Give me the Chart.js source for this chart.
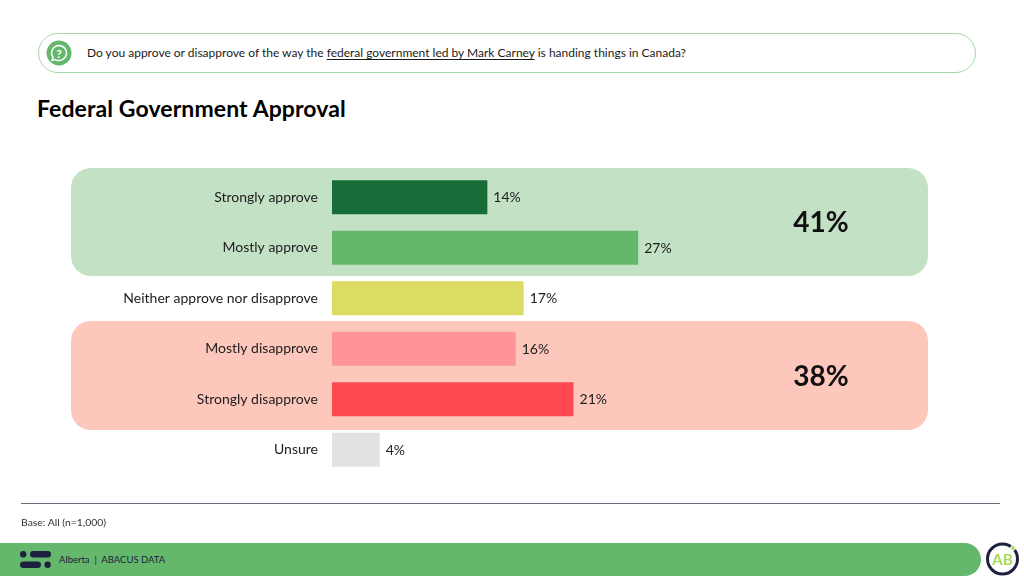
<!DOCTYPE html>
<html>
<head>
<meta charset="utf-8">
<script src="https://cdn.jsdelivr.net/npm/chart.js@4"></script>
<style>
  html, body { margin: 0; padding: 0; background: #fff; }
  body { width: 1024px; height: 576px; position: relative; overflow: hidden; font-family: Lato, sans-serif; color: #1c1c1c; }
  .abs { position: absolute; white-space: nowrap; }
  #chart-wrap { position: absolute; left: 0; top: 0; width: 1024px; height: 576px; }
  .question { left: 38px; top: 33px; width: 936px; height: 38px; border: 1px solid #a5d8a7; border-radius: 20px; }
  .question-text { left: 87px; top: 45px; font-size: 12px; line-height: 16px; }
  .question-text u { text-underline-offset: 2px; }
  .title { left: 37px; top: 95px; font-size: 23px; line-height: 27px; font-weight: 700; letter-spacing: 0.1px; color: #000; }
  .panel { left: 71px; width: 857px; border-radius: 20px; }
  .total { left: 761px; width: 120px; text-align: center; font-size: 28px; line-height: 34px; font-weight: 700; color: #111; }
  .rule { left: 21px; top: 503px; width: 979px; height: 1px; background: #6f6c80; }
  .base { left: 21px; top: 515px; font-size: 10.4px; line-height: 14px; color: #333; }
  .footer { left: 0; top: 543px; width: 981px; height: 33px; background: #65b76b; border-radius: 0 17px 17px 0; }
  .footer-text { left: 59px; top: 553px; font-size: 9.5px; line-height: 14px; color: #1d2140; }
</style>
</head>
<body>
<div class="abs question"></div>
<svg class="abs" style="left:46px;top:40px" width="26" height="26" viewBox="0 0 26 26">
  <circle cx="13" cy="13" r="12.5" fill="#65b76b"/>
  <path d="M13 5.5a7.5 7.5 0 1 1-3.6 14.1L6 20.5l1-3.2A7.5 7.5 0 0 1 13 5.5z" fill="none" stroke="#fff" stroke-width="1.5"/>
  <text x="13" y="17.5" text-anchor="middle" font-family="Lato" font-weight="700" font-size="12" fill="#fff">?</text>
</svg>
<div class="abs question-text">Do you approve or disapprove of the way the <u>federal government led by Mark Carney</u> is handing things in Canada?</div>
<div class="abs title">Federal Government Approval</div>

<div class="abs panel" style="top:168px;height:108px;background:#c3e2c5"></div>
<div class="abs panel" style="top:321px;height:109px;background:#fec7bc"></div>

<div id="chart-wrap"><canvas id="approval-chart" width="1024" height="576"></canvas></div>

<div class="abs total" style="top:204px">41%</div>
<div class="abs total" style="top:358px">38%</div>

<div class="abs rule"></div>
<div class="abs base">Base: All (n=1,000)</div>
<div class="abs footer"></div>
<svg class="abs" style="left:20px;top:551px" width="31" height="18" viewBox="0 0 31 18">
  <circle cx="3.2" cy="3.2" r="3.2" fill="#1d2140"/>
  <rect x="10" y="0" width="21" height="6.4" rx="3.2" fill="#1d2140"/>
  <rect x="0" y="10.6" width="21" height="6.4" rx="3.2" fill="#1d2140"/>
  <circle cx="27.6" cy="13.8" r="3.2" fill="#1d2140"/>
</svg>
<div class="abs footer-text">Alberta &nbsp;|&nbsp; ABACUS DATA</div>
<svg class="abs" style="left:985px;top:541px" width="36" height="36" viewBox="0 0 36 36">
  <circle cx="17.5" cy="18" r="15" fill="#fff" stroke="#1d2140" stroke-width="3"/>
  <circle cx="28" cy="7" r="2.4" fill="#a5dc5a" stroke="#fff" stroke-width="1"/>
  <text x="17.5" y="23.5" text-anchor="middle" font-family="Lato" font-weight="700" font-size="15.5" fill="#a5dc5a">AB</text>
</svg>

<script>
const categories = [
  "Strongly approve",
  "Mostly approve",
  "Neither approve nor disapprove",
  "Mostly disapprove",
  "Strongly disapprove",
  "Unsure"
];
// labels show them rounded
const shares = [13.7, 27, 16.9, 16.2, 21.3, 4.2];
const barLabels = ["14%", "27%", "17%", "16%", "21%", "4%"];
const barColors = ["#176b37", "#65b76b", "#dcdb63", "#fe9497", "#fe4a50", "#e1e3e2"];

const barLabelPlugin = {
  id: "barLabels",
  afterDatasetsDraw(chart) {
    const ctx = chart.ctx;
    ctx.save();
    ctx.font = "14px Lato";
    ctx.fillStyle = "#1c1c1c";
    ctx.textBaseline = "middle";
    chart.getDatasetMeta(0).data.forEach((bar, i) => {
      ctx.fillText(barLabels[i], bar.x + 6, bar.y + 0.5);
    });
    ctx.restore();
  }
};

new Chart(document.getElementById("approval-chart"), {
  type: "bar",
  data: {
    labels: categories,
    datasets: [{
      data: shares,
      backgroundColor: barColors,
      categoryPercentage: 1,
      barPercentage: 0.67
    }]
  },
  options: {
    indexAxis: "y",
    responsive: false,
    animation: false,
    events: [],
    layout: { padding: { top: 172, bottom: 101, left: 0, right: 125 } },
    plugins: { legend: { display: false }, tooltip: { enabled: false } },
    scales: {
      x: { display: false, min: 0, max: 50 },
      y: {
        afterFit(scale) { scale.width = 332; },
        grid: { display: false },
        border: { display: false },
        ticks: { color: "#1c1c1c", padding: 6, font: { family: "Lato", size: 14 } }
      }
    }
  },
  plugins: [barLabelPlugin]
});
</script>
</body>
</html>
